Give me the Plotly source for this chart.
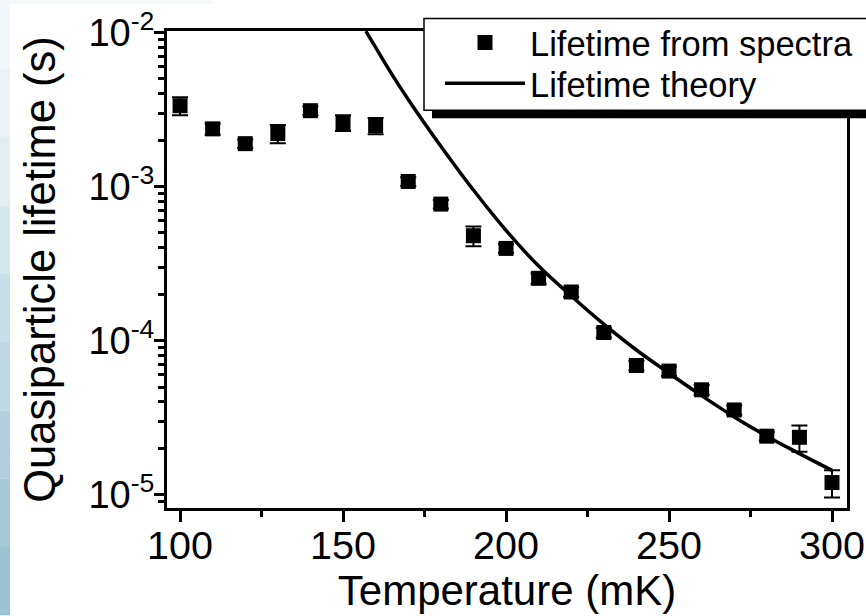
import plotly.graph_objects as go

# ---- data ----
temperature_mK = [100, 110, 120, 130, 140, 150, 160, 170, 180, 190, 200,
                  210, 220, 230, 240, 250, 260, 270, 280, 290, 300]
lifetime_s = [3.35e-3, 2.37e-3, 1.90e-3, 2.21e-3, 3.11e-3, 2.60e-3, 2.49e-3,
              1.08e-3, 7.7e-4, 4.8e-4, 3.97e-4, 2.54e-4, 2.07e-4, 1.13e-4,
              6.9e-5, 6.35e-5, 4.8e-5, 3.55e-5, 2.4e-5, 2.36e-5, 1.2e-5]
lifetime_err = [0.45e-3, 0.2e-3, 0.12e-3, 0.3e-3, 0.2e-3, 0.3e-3, 0.3e-3,
                0.07e-3, 0.05e-3, 0.07e-3, 0.025e-3, 0.02e-3, 0.015e-3, 0.008e-3,
                0.5e-5, 0.45e-5, 0.35e-5, 0.25e-5, 0.15e-5, 0.46e-5, 0.24e-5]

theory_T_mK = [157, 160, 165, 170, 175, 180, 190, 200, 210, 220, 230,
               240, 250, 260, 270, 280, 290, 300]
theory_lifetime_s = [1.02e-2, 8.0e-3, 5.35e-3, 3.68e-3, 2.58e-3, 1.83e-3, 9.5e-4,
                     5.2e-4, 3.05e-4, 1.95e-4, 1.28e-4, 8.7e-5, 6.15e-5, 4.4e-5,
                     3.2e-5, 2.4e-5, 1.85e-5, 1.44e-5]

x_ticks = [100, 150, 200, 250, 300]
x_minor_ticks = [125, 175, 225, 275]
y_ticks = [1e-5, 1e-4, 1e-3, 1e-2]
y_tick_labels = ["10<sup>-5</sup>", "10<sup>-4</sup>", "10<sup>-3</sup>", "10<sup>-2</sup>"]

FONT = "Arial, 'Liberation Sans', Helvetica, sans-serif"

fig = go.Figure()
fig.add_trace(go.Scatter(
    x=temperature_mK, y=lifetime_s, mode="markers",
    name="Lifetime from spectra", legend="legend",
    marker=dict(symbol="square", size=15, color="black"),
    error_y=dict(type="data", array=lifetime_err, color="black",
                 thickness=2, width=8),
))
fig.add_trace(go.Scatter(
    x=theory_T_mK, y=theory_lifetime_s, mode="lines",
    name="Lifetime theory", legend="legend2",
    line=dict(color="black", width=3.5, shape="spline"),
))

W, H = 866, 616
L, R, T, B = 167, 19, 30.5, 107.5
pw = W - L - R
ph = H - T - B


def px_x(p):
    return (p - L) / pw


def px_y(p):
    return 1 - (p - T) / ph


shapes = []
# left decorative gradient strip of the slide background
strip_cols = ["#f2f7f9", "#eaf2f5", "#e0edf1", "#d5e6ec", "#c9dfe7",
              "#bdd8e1", "#b1d0dc", "#a6c9d7", "#9cc3d3"]
n = len(strip_cols)
for i, c in enumerate(strip_cols):
    shapes.append(dict(type="rect", xref="paper", yref="paper",
                       x0=px_x(0), x1=px_x(10),
                       y0=px_y(H * (i + 1) / n), y1=px_y(H * i / n),
                       fillcolor=c, line=dict(width=0), layer="below"))
shapes.append(dict(type="rect", xref="paper", yref="paper",
                   x0=px_x(0), x1=px_x(213), y0=px_y(3), y1=px_y(0),
                   fillcolor="#f2f7f9", line=dict(width=0), layer="below"))
# legend drop shadow and frame
shapes.append(dict(type="rect", xref="paper", yref="paper",
                   x0=px_x(432), x1=px_x(880), y0=px_y(118), y1=px_y(100),
                   fillcolor="black", line=dict(width=0), layer="above"))
shapes.append(dict(type="rect", xref="paper", yref="paper",
                   x0=px_x(424), x1=px_x(880), y0=px_y(110), y1=px_y(18),
                   fillcolor="white", line=dict(color="black", width=1.5),
                   layer="above"))

legend_common = dict(xanchor="left", yanchor="middle",
                     bgcolor="rgba(0,0,0,0)", borderwidth=0,
                     font=dict(size=34.5, family=FONT), itemwidth=80)

fig.update_layout(
    width=W, height=H,
    margin=dict(l=L, r=R, t=T, b=B, autoexpand=False),
    paper_bgcolor="white", plot_bgcolor="white",
    font=dict(family=FONT, color="black"),
    showlegend=True,
    legend=dict(x=px_x(440), y=px_y(42), **legend_common),
    legend2=dict(x=px_x(440), y=px_y(83), **legend_common),
    shapes=shapes,
    xaxis=dict(
        range=[96.0, 304.6], tickvals=x_ticks, ticks="outside", ticklen=11,
        tickwidth=3, tickcolor="black", showline=True, linewidth=3,
        linecolor="black", mirror=True, showgrid=False, zeroline=False,
        tickfont=dict(size=39.5, family=FONT), ticklabelstandoff=-10,
        minor=dict(tickvals=x_minor_ticks, ticks="outside", ticklen=6,
                   tickwidth=2.5, tickcolor="black"),
        title=dict(text="Temperature (mK)", font=dict(size=42, family=FONT),
                   standoff=2),
    ),
    yaxis=dict(
        type="log", range=[-5.086, -1.99], tickvals=y_ticks,
        ticktext=y_tick_labels, automargin=True,
        ticks="outside", ticklen=10, tickwidth=3, tickcolor="black",
        showline=True, linewidth=3, linecolor="black", mirror=True,
        showgrid=False, zeroline=False,
        tickfont=dict(size=38, family=FONT), ticklabelstandoff=-8,
        minor=dict(dtick="D1", ticks="outside", ticklen=6, tickwidth=2.5,
                   tickcolor="black", showgrid=False),
        title=dict(text="Quasiparticle lifetime (s)",
                   font=dict(size=43.5, family=FONT), standoff=20),
    ),
)

fig.write_html("out.html",
               config={"displayModeBar": False},
               post_script="document.body.style.margin='0';"
                           "document.body.style.overflow='hidden';")
